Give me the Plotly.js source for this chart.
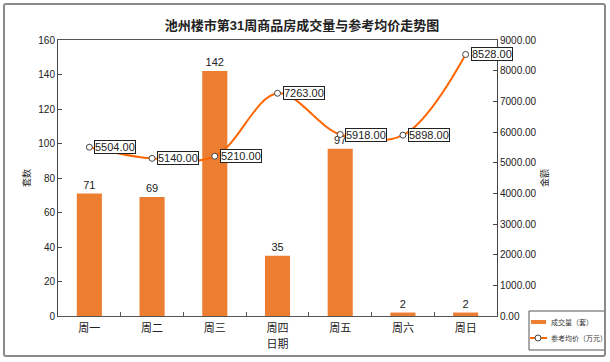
<!DOCTYPE html>
<html>
<head>
<meta charset="utf-8">
<script src="https://cdn.plot.ly/plotly-3.0.1.min.js"></script>
<style>
html,body{margin:0;padding:0;background:#fff;}
#wrap{position:relative;width:610px;height:362px;}
#chart{width:610px;height:362px;}
#frame{position:absolute;left:3px;top:3px;width:599px;height:350px;border:2px solid #8a8a8a;border-radius:3px;pointer-events:none;}
</style>
</head>
<body>
<div id="wrap"><div id="chart"></div><div id="frame"></div></div>
<script>
var categories = ['周一','周二','周三','周四','周五','周六','周日'];
var volume = [71, 69, 142, 35, 97, 2, 2];
var avgPrice = [5504, 5140, 5210, 7263, 5918, 5898, 8528];
var leftTicks = [0,20,40,60,80,100,120,140,160];
var rightTicks = [0,1000,2000,3000,4000,5000,6000,7000,8000,9000];
var seriesNames = ['成交量（套）', '参考均价（万元）'];

var font = 'Liberation Sans, Arial, Noto Sans CJK SC, sans-serif';
var barColor = '#ED7D31', lineColor = '#FF6600';

var bars = {
  type: 'bar', name: seriesNames[0], x: categories, y: volume,
  marker: {color: barColor},
  text: volume.map(String), textposition: 'outside', cliponaxis: false,
  textfont: {size: 11, color: '#222', family: font},
  yaxis: 'y', hoverinfo: 'skip'
};
var line = {
  type: 'scatter', mode: 'lines+markers', name: seriesNames[1],
  x: categories, y: avgPrice, yaxis: 'y2',
  line: {color: lineColor, width: 2, shape: 'spline', smoothing: 1},
  marker: {symbol: 'circle', size: 6, color: '#ffffff', line: {color: '#444', width: 1}},
  cliponaxis: false, hoverinfo: 'skip'
};

var anns = avgPrice.map(function(v, i){
  return {
    x: categories[i], y: v, xref: 'x', yref: 'y2',
    text: v.toFixed(2), showarrow: false, xanchor: 'left', yanchor: 'middle',
    xshift: 5, bgcolor: '#ffffff', bordercolor: '#222', borderwidth: 1, borderpad: 0,
    font: {size: 11, color: '#222', family: font}
  };
});

// custom compact legend (paper coordinates derived from pixel positions)
var L = 58, W = 439, B = 316, H = 276;
function px(x){ return (x - L) / W; }
function py(y){ return (B - y) / H; }
var shapes = [
  {type: 'rect', xref: 'paper', yref: 'paper', x0: px(529), x1: px(605), y0: py(311), y1: py(350),
   line: {color: '#555', width: 1}, fillcolor: '#fff', layer: 'above'},
  {type: 'line', xref: 'paper', yref: 'paper', x0: px(531), x1: px(546), y0: py(322), y1: py(322),
   line: {color: barColor, width: 4}, layer: 'above'},
  {type: 'line', xref: 'paper', yref: 'paper', x0: px(530), x1: px(547), y0: py(338), y1: py(338),
   line: {color: lineColor, width: 2}, layer: 'above'},
  {type: 'circle', xref: 'paper', yref: 'paper', x0: px(535), x1: px(541), y0: py(335), y1: py(341),
   line: {color: '#444', width: 1}, fillcolor: '#fff', layer: 'above'}
];
anns.push({xref: 'paper', yref: 'paper', x: px(549), y: py(322), xanchor: 'left', yanchor: 'middle',
  text: seriesNames[0], showarrow: false, font: {size: 7, color: '#333', family: font}});
anns.push({xref: 'paper', yref: 'paper', x: px(549), y: py(338), xanchor: 'left', yanchor: 'middle',
  text: seriesNames[1], showarrow: false, font: {size: 7, color: '#333', family: font}});

var layout = {
  width: 610, height: 362,
  margin: {l: 58, r: 113, t: 40, b: 46, autoexpand: false},
  paper_bgcolor: '#ffffff', plot_bgcolor: '#ffffff',
  font: {family: font, size: 10, color: '#222'},
  title: {text: '<b>池州楼市第31周商品房成交量与参考均价走势图</b>', x: 0.495, xanchor: 'center', y: 0.93, yanchor: 'middle',
          font: {size: 13, color: '#222', family: font}},
  bargap: 0.6,
  showlegend: false,
  xaxis: {
    type: 'category', range: [-0.5, 6.5], autorange: false,
    showline: true, linecolor: '#555', linewidth: 1, mirror: true,
    ticks: 'inside', tickson: 'boundaries', ticklen: 4, tickcolor: '#555',
    showgrid: false, tickfont: {size: 11, color: '#222'}, ticklabelstandoff: 2,
    title: {text: '日期', font: {size: 11, color: '#222'}, standoff: 7}
  },
  yaxis: {
    range: [0, 160], tickvals: leftTicks, showline: true, linecolor: '#444', linewidth: 1,
    ticks: 'inside', ticklen: 4, tickcolor: '#444', showgrid: false, zeroline: false,
    tickfont: {size: 10, color: '#222'},
    title: {text: '套数', font: {size: 9, color: '#222'}, standoff: 6}
  },
  yaxis2: {
    overlaying: 'y', side: 'right', range: [0, 9000], tickvals: rightTicks,
    tickformat: '.2f', showline: true, linecolor: '#444', linewidth: 1,
    ticks: 'inside', ticklen: 4, tickcolor: '#444', showgrid: false, zeroline: false,
    tickfont: {size: 10, color: '#222'},
    title: {text: '金额', font: {size: 9, color: '#222'}, standoff: 6}
  },
  shapes: shapes,
  annotations: anns
};

Plotly.newPlot('chart', [bars, line], layout, {displayModeBar: false, staticPlot: true});
</script>
</body>
</html>
